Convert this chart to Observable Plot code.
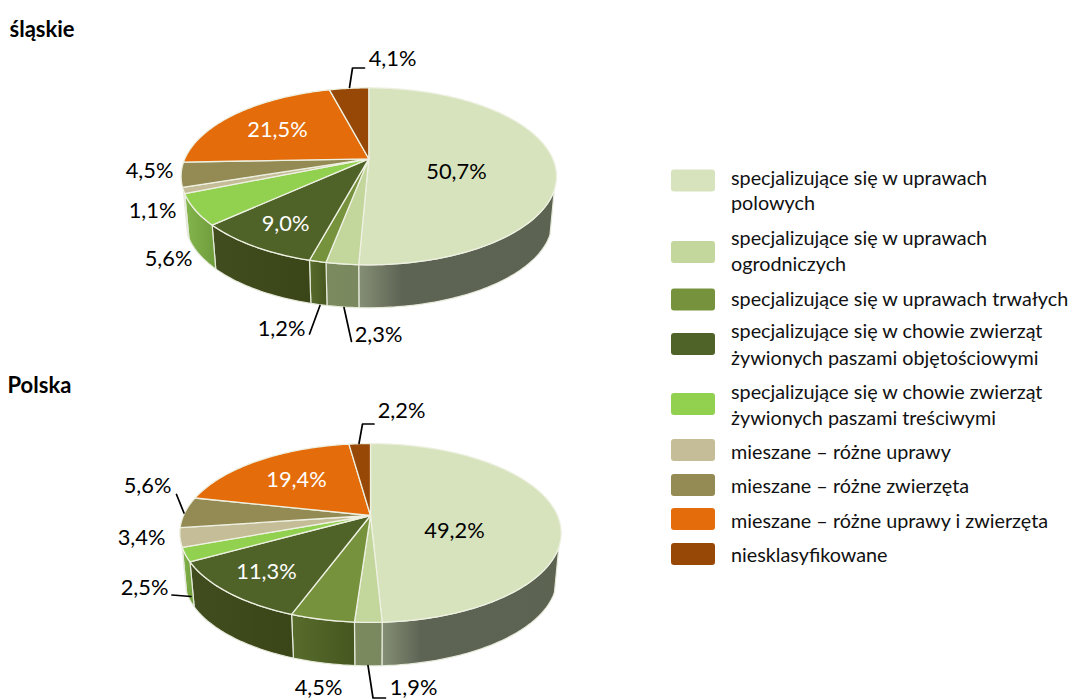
<!DOCTYPE html>
<html><head><meta charset="utf-8">
<style>html,body{margin:0;padding:0;background:#fff}</style>
<script src="https://cdn.jsdelivr.net/npm/d3@7"></script>
<script src="https://cdn.jsdelivr.net/npm/@observablehq/plot@0.6"></script>
</head><body>
<script>
// ---- data ----
const categories = ["specjalizujące się w uprawach polowych","specjalizujące się w uprawach ogrodniczych","specjalizujące się w uprawach trwałych","specjalizujące się w chowie zwierząt żywionych paszami objętościowymi","specjalizujące się w chowie zwierząt żywionych paszami treściwymi","mieszane – różne uprawy","mieszane – różne zwierzęta","mieszane – różne uprawy i zwierzęta","niesklasyfikowane"];
const slaskie = [50.7,2.3,1.2,9.0,5.6,1.1,4.5,21.5,4.1];
const polska = [49.2,1.9,4.5,11.3,2.5,3.4,5.6,19.4,2.2];
const colors = ["#d7e3bc","#c3d69b","#76923c","#4f6228","#92d050","#c4bd97","#948a54","#e46c0a","#974806"];
const wallLeft = ["#858f75","#7c8a5e","#586c2c","#414d1f","#84b54c","#8f8a6c","#6e663e","#a84f08","#6f3504"];
const wallRight = ["#5d6351","#7a8860","#46561f","#3a4518","#6f9c3c","#8f8a6c","#6e663e","#a84f08","#6f3504"];

// ---- layout ----
const pies = [
  {name:"śląskie", values:slaskie, cx:368.3, cy:158.3, X:184, Y:85, k:0.198, depth:43, titleX:9, titleY:29,
   labels:[[456,172,"#000"],[378,335,"#000"],[281,329,"#000"],[285,224,"#fff"],[168,259,"#000"],[152,211,"#000"],[149,171,"#000"],[277,130,"#fff"],[392,59,"#000"]],
   leaders:[[[349,87],[352,67.5],[364,67.5]],[[319.5,305],[309,333.5]],[[343.5,307],[351,341]]]},
  {name:"Polska", values:polska, cx:370, cy:515, X:187, Y:86, k:0.1955, depth:43.5, titleX:7, titleY:385,
   labels:[[454,531,"#000"],[413,688,"#000"],[318,688,"#000"],[266,572,"#fff"],[144,588,"#000"],[141,538,"#000"],[147,486,"#000"],[296,480,"#fff"],[401,411,"#000"]],
   leaders:[[[358.5,443],[362,423.5],[373.5,423.5]],[[183.5,512.5],[176,494]],[[190.5,596],[171.5,594.5]],[[367.5,665],[372.5,697.5],[385,697.5]]]}
];
const legendRows = [
  {top:169.5,bottom:191.5,lines:[["specjalizujące się w uprawach",178],["polowych",203]]},
  {top:241,bottom:263,lines:[["specjalizujące się w uprawach",238],["ogrodniczych",264]]},
  {top:288.5,bottom:310.5,lines:[["specjalizujące się w uprawach trwałych",299]]},
  {top:333,bottom:355,lines:[["specjalizujące się w chowie zwierząt",331],["żywionych paszami objętościowymi",358]]},
  {top:393,bottom:415,lines:[["specjalizujące się w chowie zwierząt",392],["żywionych paszami treściwymi",418]]},
  {top:439,bottom:461,lines:[["mieszane – różne uprawy",452]]},
  {top:474,bottom:496,lines:[["mieszane – różne zwierzęta",486]]},
  {top:508,bottom:530,lines:[["mieszane – różne uprawy i zwierzęta",521]]},
  {top:543,bottom:565,lines:[["niesklasyfikowane",555]]}
];
const wallSpan = [110,250];   // part of the rim whose side wall shows
const shrink = 0.977;         // the lower rim is a little smaller (perspective)

const font = "Lato";
const marks = [];
marks.push(() => {
  const ns = "http://www.w3.org/2000/svg";
  const defs = document.createElementNS(ns,"defs");
  colors.forEach((_,i)=>{
    const g = document.createElementNS(ns,"linearGradient");
    g.setAttribute("id","wall"+i);
    const stops = i===0 ? [[0,wallLeft[i]],[0.22,"#5e6454"],[1,wallRight[i]]] : [[0,wallLeft[i]],[1,wallRight[i]]];
    stops.forEach(([o,c])=>{const s=document.createElementNS(ns,"stop");s.setAttribute("offset",o);s.setAttribute("stop-color",c);g.appendChild(s);});
    defs.appendChild(g);
  });
  return defs;
});

const deg = Math.PI/180;
pies.forEach(p=>{
  const project = a => {
    const u=Math.sin(a*deg), v=Math.cos(a*deg), w=1+p.k*v;
    return [p.cx+p.X*u/w, p.cy-p.Y*v/w];
  };
  const total = d3.sum(p.values);
  const ends = d3.cumsum(p.values).map(c=>c/total*360);
  const starts = [0,...ends.slice(0,-1)];
  const arc = (a0,a1)=>{const n=Math.max(2,Math.ceil(a1-a0)+1);return d3.range(n).map(i=>project(a0+(a1-a0)*i/(n-1)));};
  const lift = p.depth + (p.Y/(1-p.k))*(1-shrink);
  p.values.forEach((_,i)=>{
    const a0=Math.max(starts[i],wallSpan[0]), a1=Math.min(ends[i],wallSpan[1]);
    if(a1<=a0) return;
    const rim=arc(a0,a1);
    const low=rim.slice().reverse().map(([x,y])=>[p.cx+(x-p.cx)*shrink,p.cy+(y-p.cy)*shrink+lift]);
    const poly=[...rim,...low,rim[0]];
    marks.push(Plot.line(poly,{x:d=>d[0],y:d=>d[1],fill:`url(#wall${i})`,stroke:"#e6eadb",strokeWidth:1.2,curve:"linear"}));
  });
  p.values.forEach((_,i)=>{
    const apex=[p.cx,p.cy];
    const poly=[apex,...arc(starts[i],ends[i]),apex];
    marks.push(Plot.line(poly,{x:d=>d[0],y:d=>d[1],fill:colors[i],stroke:"#eef1e2",strokeWidth:1.3,curve:"linear"}));
  });
  p.leaders.forEach(l=>marks.push(Plot.line(l,{x:d=>d[0],y:d=>d[1],stroke:"#000",strokeWidth:1.7,curve:"linear"})));
  const lab=p.values.map((v,i)=>({t:v.toFixed(1).replace(".",",")+"%",x:p.labels[i][0],y:p.labels[i][1],c:p.labels[i][2]}));
  marks.push(Plot.text(lab,{x:"x",y:"y",text:"t",fill:"c",fontSize:21.8,fontFamily:font,textAnchor:"middle",lineAnchor:"middle"}));
  marks.push(Plot.text([p.name],{x:()=>p.titleX,y:()=>p.titleY,text:d=>d,fill:"#000",fontSize:22,fontWeight:"bold",fontFamily:font,textAnchor:"start",lineAnchor:"middle"}));
});
const legendRects = legendRows.map((r,i)=>({...r,c:colors[i],cat:categories[i]}));
marks.push(Plot.rect(legendRects,{x1:()=>671,x2:()=>715,y1:"top",y2:"bottom",fill:"c",rx:3}));
marks.push(Plot.text(legendRows.flatMap(r=>r.lines.map(([t,y])=>({t,y}))),{x:()=>730.5,y:"y",text:"t",fill:"#111",fontSize:19.8,fontFamily:font,textAnchor:"start",lineAnchor:"middle"}));

const chart = Plot.plot({
  width:1070,height:700,margin:0,
  x:{domain:[0,1070],range:[0,1070],axis:null},
  y:{domain:[0,700],range:[0,700],axis:null},
  style:{background:"#fff",fontFamily:font},
  marks
});
document.body.appendChild(chart);
</script>
</body></html>
